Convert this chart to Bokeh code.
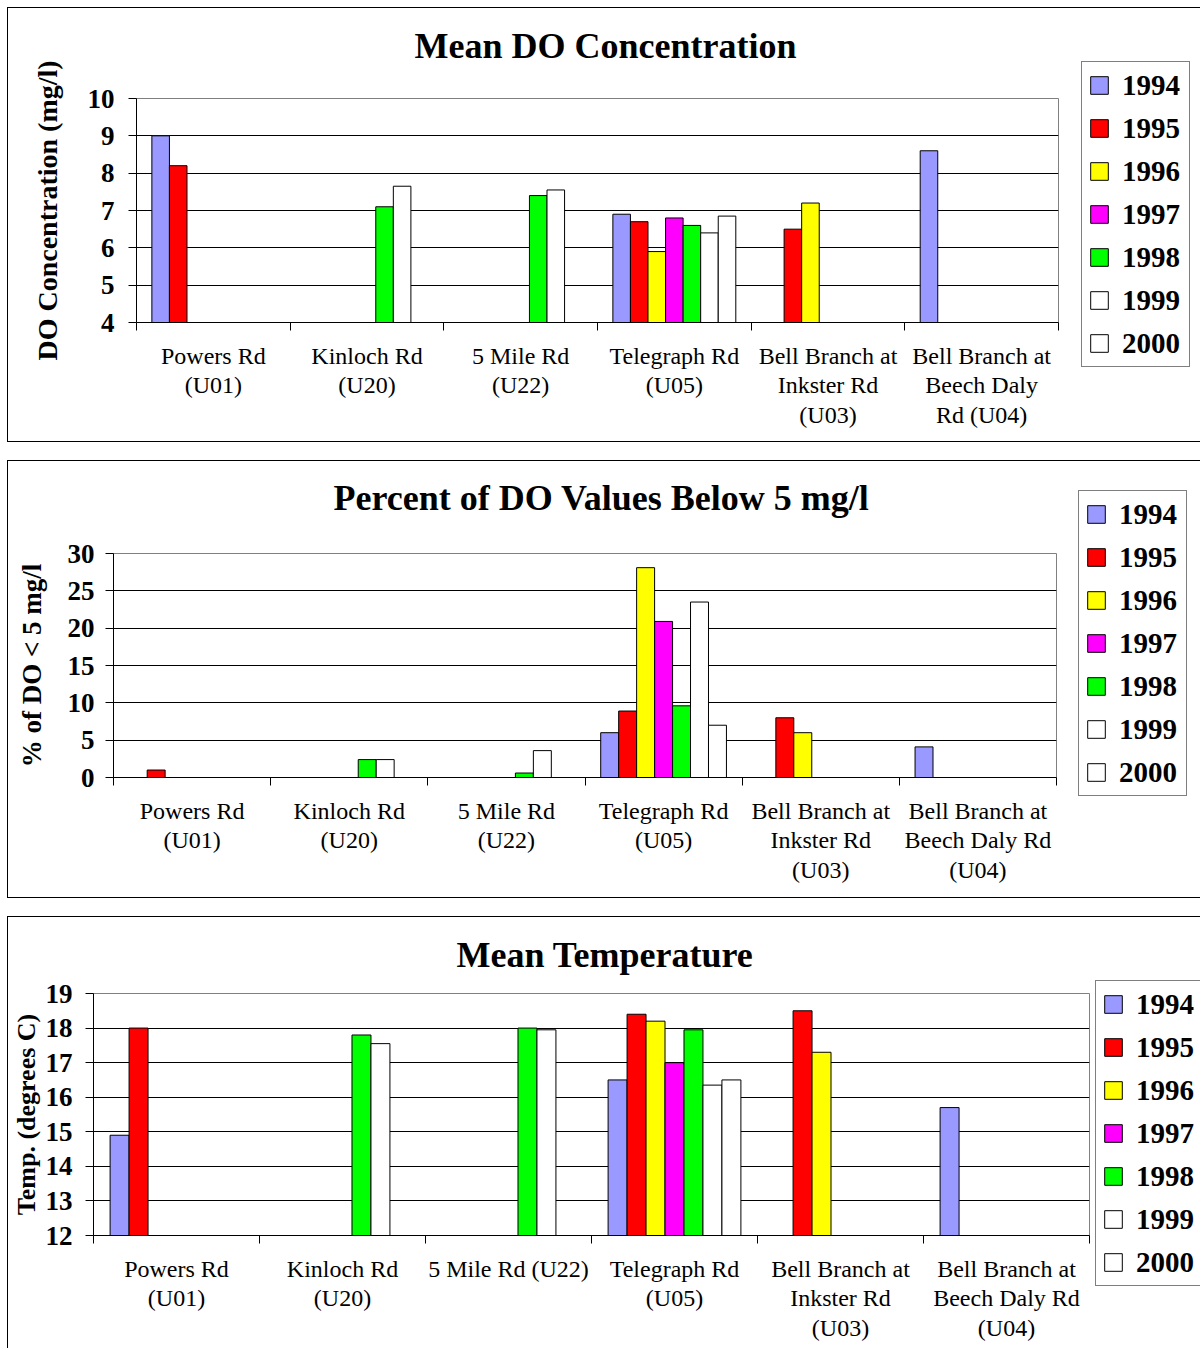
import math
from bokeh.plotting import figure
from bokeh.models import ColumnDataSource, FixedTicker, Range1d, Legend, LegendItem, Title
from bokeh.transform import dodge
from bokeh.layouts import column, row
from bokeh.embed import file_html
from bokeh.resources import INLINE

nan = float("nan")

# ---------------------------------------------------------------- data
years = ["1994", "1995", "1996", "1997", "1998", "1999", "2000"]
year_colors = ["#9999FF", "#FF0000", "#FFFF00", "#FF00FF", "#00FF00", "#FFFFFF", "#FFFFFF"]

sites_do = ["Powers Rd\n(U01)", "Kinloch Rd\n(U20)", "5 Mile Rd\n(U22)", "Telegraph Rd\n(U05)",
            "Bell Branch at\nInkster Rd\n(U03)", "Bell Branch at\nBeech Daly\nRd (U04)"]
sites_pct = ["Powers Rd\n(U01)", "Kinloch Rd\n(U20)", "5 Mile Rd\n(U22)", "Telegraph Rd\n(U05)",
             "Bell Branch at\nInkster Rd\n(U03)", "Bell Branch at\nBeech Daly Rd\n(U04)"]
sites_temp = ["Powers Rd\n(U01)", "Kinloch Rd\n(U20)", "5 Mile Rd (U22)", "Telegraph Rd\n(U05)",
              "Bell Branch at\nInkster Rd\n(U03)", "Bell Branch at\nBeech Daly Rd\n(U04)"]

# mean dissolved oxygen, mg/l
do_1994 = [9.0, nan, nan, 6.9, nan, 8.6]
do_1995 = [8.2, nan, nan, 6.7, 6.5, nan]
do_1996 = [nan, nan, nan, 5.9, 7.2, nan]
do_1997 = [nan, nan, nan, 6.8, nan, nan]
do_1998 = [nan, 7.1, 7.4, 6.6, nan, nan]
do_1999 = [nan, 7.65, 7.55, 6.4, nan, nan]
do_2000 = [nan, nan, nan, 6.85, nan, nan]

# percent of DO samples below 5 mg/l
pct_1994 = [nan, nan, nan, 6.0, nan, 4.1]
pct_1995 = [1.0, nan, nan, 8.9, 8.0, nan]
pct_1996 = [nan, nan, nan, 28.1, 6.0, nan]
pct_1997 = [nan, nan, nan, 20.9, nan, nan]
pct_1998 = [nan, 2.4, 0.6, 9.6, nan, nan]
pct_1999 = [nan, 2.4, 3.6, 23.5, nan, nan]
pct_2000 = [nan, nan, nan, 7.0, nan, nan]

# mean water temperature, degrees C
temp_1994 = [14.9, nan, nan, 16.5, nan, 15.7]
temp_1995 = [18.0, nan, nan, 18.4, 18.5, nan]
temp_1996 = [nan, nan, nan, 18.2, 17.3, nan]
temp_1997 = [nan, nan, nan, 17.0, nan, nan]
temp_1998 = [nan, 17.8, 18.0, 17.95, nan, nan]
temp_1999 = [nan, 17.55, 17.95, 16.35, nan, nan]
temp_2000 = [nan, nan, nan, 16.5, nan, nan]

SERIF = "Liberation Serif"
BAR_W = 0.8 / 7


def make_panel(title, ylabel, labels, series, y_lo, y_hi, y_step, height, main_w,
               b_left, b_right, b_top, b_bottom, title_gap, title_offset,
               ylabel_size, ylabel_standoff, ytick_standoff, xlabel_standoff,
               legend_loc, last=False):
    p = figure(width=main_w, height=height, output_backend="svg", toolbar_location=None,
               title=None,
               x_range=Range1d(0, len(labels)), y_range=Range1d(y_lo, y_hi),
               min_border_left=b_left, min_border_right=b_right,
               min_border_top=b_top, min_border_bottom=b_bottom,
               background_fill_color="white", border_fill_color="white")
    p.frame_align = False

    # blank strip between the frame and the heading
    p.add_layout(Title(text=" ", text_font_size="1px", standoff=title_gap), "above")
    p.add_layout(Title(text=title, align="left", offset=title_offset, text_font=SERIF,
                       text_font_style="bold", text_font_size="36px", text_color="#000000",
                       standoff=0), "above")

    src = {"pos": [i + 0.5 for i in range(len(labels))]}
    for yr, vals in zip(years, series):
        src["y" + yr] = vals
    source = ColumnDataSource(src)

    for j, (yr, col) in enumerate(zip(years, year_colors)):
        p.vbar(x=dodge("pos", (j - 3) * BAR_W), top="y" + yr, bottom=y_lo, width=BAR_W,
               source=source, fill_color=col, line_color="#000000", line_width=1)

    # y axis
    yt = list(range(y_lo, y_hi + 1, y_step))
    p.yaxis.ticker = FixedTicker(ticks=yt)
    p.yaxis.axis_label = ylabel
    p.yaxis.axis_label_text_font = SERIF
    p.yaxis.axis_label_text_font_style = "bold"
    p.yaxis.axis_label_text_font_size = ylabel_size
    p.yaxis.axis_label_text_color = "#000000"
    p.yaxis.axis_label_standoff = ylabel_standoff
    p.yaxis.major_label_text_font = SERIF
    p.yaxis.major_label_text_font_style = "bold"
    p.yaxis.major_label_text_font_size = "27px"
    p.yaxis.major_label_text_color = "#000000"
    p.yaxis.major_label_standoff = ytick_standoff
    p.yaxis.major_tick_out = 8
    p.yaxis.major_tick_in = 0
    p.yaxis.major_tick_line_color = "#000000"
    p.yaxis.minor_tick_line_color = None
    p.yaxis.axis_line_color = "#000000"

    # x axis: labels centred on each site, ticks on the group boundaries
    centers = [i + 0.5 for i in range(len(labels))]
    p.xaxis.ticker = FixedTicker(ticks=centers, minor_ticks=list(range(len(labels) + 1)))
    p.xaxis.major_label_overrides = {c: lab for c, lab in zip(centers, labels)}
    p.xaxis.major_label_text_font = SERIF
    p.xaxis.major_label_text_font_size = "24px"
    p.xaxis.major_label_text_color = "#000000"
    p.xaxis.major_label_text_line_height = 1.15
    p.xaxis.major_tick_line_color = None
    p.xaxis.major_tick_out = 0
    p.xaxis.major_tick_in = 0
    p.xaxis.major_label_standoff = xlabel_standoff
    p.xaxis.minor_tick_line_color = "#000000"
    p.xaxis.minor_tick_out = 8
    p.xaxis.minor_tick_in = 0
    p.xaxis.axis_line_color = "#000000"

    p.xgrid.grid_line_color = None
    p.ygrid.ticker = FixedTicker(ticks=yt)
    p.ygrid.grid_line_color = "#000000"
    p.ygrid.grid_line_width = 1
    p.outline_line_color = "#808080"

    # key strip to the right of the chart
    k = figure(width=1200 - 7 - main_w, height=height, output_backend="svg",
               toolbar_location=None, title=None, x_axis_type=None, y_axis_type=None,
               x_range=Range1d(0, 1), y_range=Range1d(0, 1),
               min_border_left=0, min_border_right=0, min_border_top=0, min_border_bottom=0,
               background_fill_color="white", border_fill_color="white")
    k.frame_align = False
    k.outline_line_color = None
    items = []
    for yr, col in zip(years, year_colors):
        # swatch-only renderer: a single undefined point, so nothing is drawn in the strip
        r = k.vbar(x=[nan], top=[nan], width=0.1, fill_color=col,
                   line_color="#000000", line_width=1)
        items.append(LegendItem(label=yr, renderers=[r]))
    legend = Legend(items=items, location=legend_loc, orientation="vertical")
    legend.border_line_color = "#000000"
    legend.border_line_width = 1
    legend.background_fill_color = "white"
    legend.background_fill_alpha = 1.0
    legend.label_text_font = SERIF
    legend.label_text_font_style = "bold"
    legend.label_text_font_size = "29px"
    legend.label_text_color = "#000000"
    legend.glyph_width = 22
    legend.glyph_height = 22
    legend.label_standoff = 12
    legend.label_height = 34
    legend.label_width = 61
    legend.spacing = 9
    legend.padding = 6
    legend.margin = 0
    k.add_layout(legend)

    main_border = {"border-top": "1px solid #000", "border-left": "1px solid #000"}
    key_border = {"border-top": "1px solid #000"}
    if not last:
        main_border["border-bottom"] = "1px solid #000"
        key_border["border-bottom"] = "1px solid #000"
    p.styles = main_border
    k.styles = key_border
    return row(p, k, spacing=0)


panel1 = make_panel("Mean DO Concentration", "DO Concentration (mg/l)", sites_do,
                    [do_1994, do_1995, do_1996, do_1997, do_1998, do_1999, do_2000],
                    4, 10, 1, 435, 1053, 128, 3, 90, 121, 30, 278,
                    "28px", 22, 14, 12, (21, 76))
panel2 = make_panel("Percent of DO Values Below 5 mg/l", "% of DO < 5 mg/l", sites_pct,
                    [pct_1994, pct_1995, pct_1996, pct_1997, pct_1998, pct_1999, pct_2000],
                    0, 30, 5, 438, 1051, 105, 3, 92, 122, 33, 220,
                    "27px", 18, 11, 12, (20, 103))
panel3 = make_panel("Mean Temperature", "Temp. (degrees C)", sites_temp,
                    [temp_1994, temp_1995, temp_1996, temp_1997, temp_1998, temp_1999, temp_2000],
                    12, 19, 1, 432, 1084, 85, 3, 76, 114, 16, 363,
                    "26px", 2, 13, 12, (4, 63), last=True)

layout = column(panel1, panel2, panel3, spacing=18)
layout.styles = {"margin-left": "7px", "margin-top": "7px"}

open("out.html", "w").write(file_html(layout, INLINE))
